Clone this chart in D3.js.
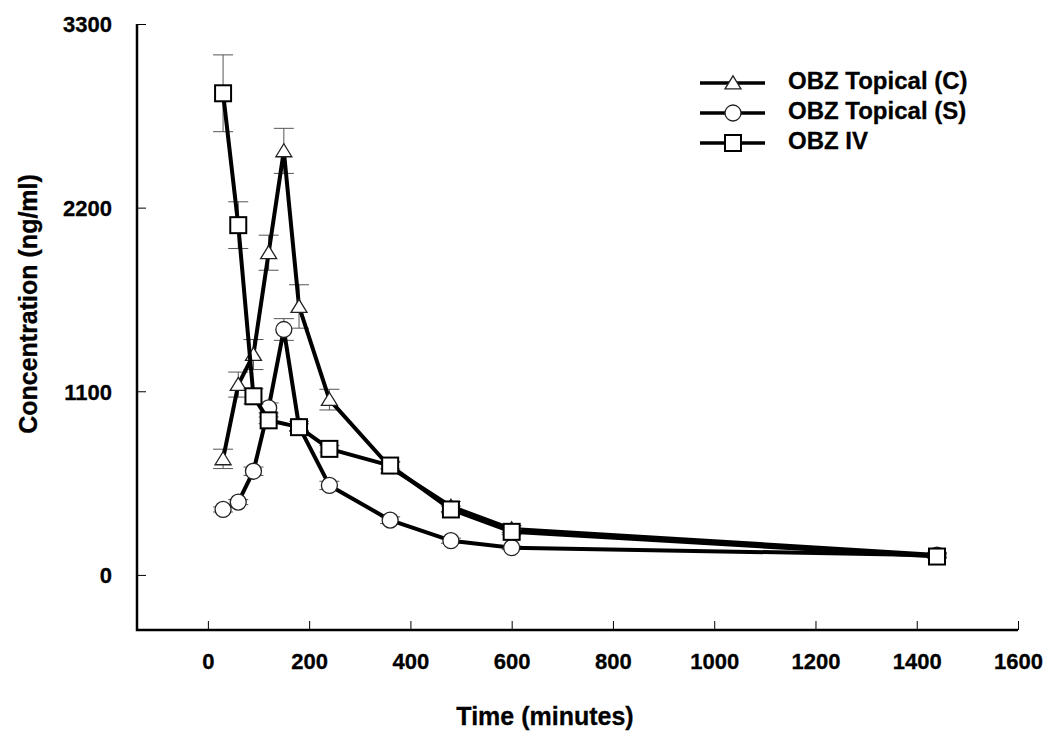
<!DOCTYPE html>
<html>
<head>
<meta charset="utf-8">
<script src="https://cdn.jsdelivr.net/npm/d3@7"></script>
<style>
  html, body { margin: 0; padding: 0; background: #fff; }
  svg { display: block; }
  text { font-family: "Liberation Sans", Arial, sans-serif; font-weight: bold; fill: #000; stroke: #000; stroke-width: 0.3px; }
</style>
</head>
<body>
<svg id="chart" width="1049" height="741"></svg>
<script>
// ---- data ----
const timesTopical = [30, 60, 90, 120, 150, 180, 240, 360, 480, 600, 1440];
const topicalC     = [695, 1140, 1320, 1930, 2540, 1608, 1050, 645, 410, 275, 120];
const topicalCErr  = [58, 75, 90, 105, 135, 130, 62, 35, 30, 20, 15];
const topicalS     = [392, 436, 621, 1000, 1470, 890, 536, 328, 205, 163, 118];
const topicalSErr  = [15, 15, 25, 30, 65, 30, 25, 20, 15, 10, 10];
const timesIV      = [30, 60, 90, 120, 180, 240, 360, 480, 600, 1440];
const iv           = [2885, 2095, 1070, 926, 885, 755, 655, 392, 258, 110];
const ivErr        = [230, 140, 45, 20, 20, 20, 20, 20, 15, 10];
const xTicks = [0, 200, 400, 600, 800, 1000, 1200, 1400, 1600];
const yTicks = [0, 1100, 2200, 3300];
const seriesNames = ["OBZ Topical (C)", "OBZ Topical (S)", "OBZ IV"];
const xTitle = "Time (minutes)";
const yTitle = "Concentration (ng/ml)";

// ---- layout ----
const svg = d3.select("#chart");
const x = d3.scaleLinear().domain([-140, 1600]).range([137, 1018]);
const y = d3.scaleLinear().domain([-330, 3300]).range([630, 24]);

const series = [
  { name: seriesNames[0], t: timesTopical, v: topicalC, e: topicalCErr, shape: "triangle" },
  { name: seriesNames[1], t: timesTopical, v: topicalS, e: topicalSErr, shape: "circle" },
  { name: seriesNames[2], t: timesIV, v: iv, e: ivErr, shape: "square" }
];

function drawMarker(g, shape, cx, cy) {
  if (shape === "circle") {
    g.append("circle").attr("cx", cx).attr("cy", cy).attr("r", 8)
      .attr("fill", "#fff").attr("stroke", "#222").attr("stroke-width", 1.3);
  } else if (shape === "square") {
    g.append("rect").attr("x", cx - 8).attr("y", cy - 8).attr("width", 16).attr("height", 16)
      .attr("fill", "#fff").attr("stroke", "#000").attr("stroke-width", 2);
  } else {
    const h = 13, w = 16;
    g.append("path")
      .attr("d", `M${cx},${cy - h * 0.55} L${cx + w / 2},${cy + h * 0.45} L${cx - w / 2},${cy + h * 0.45} Z`)
      .attr("fill", "#fff").attr("stroke", "#222").attr("stroke-width", 1.3);
  }
}

// axes
const xAxis = d3.axisBottom(x).tickValues(xTicks).tickSize(0).tickPadding(0).tickFormat(d3.format("d"));
const gx = svg.append("g").attr("transform", "translate(0,630)").call(xAxis);
gx.select(".domain").remove();
gx.selectAll("text").attr("dy", null).attr("y", 39).style("font-size", "22px").attr("font-family", null);
gx.selectAll(".tick").append("line").attr("x1", 0).attr("x2", 0).attr("y1", 0).attr("y2", -9)
  .attr("stroke", "#000").attr("stroke-width", 1);

const yAxis = d3.axisLeft(y).tickValues(yTicks).tickSize(0).tickPadding(0).tickFormat(d3.format("d"));
const gy = svg.append("g").attr("transform", "translate(137,0)").call(yAxis);
gy.select(".domain").remove();
gy.selectAll("text").attr("x", -25).attr("dy", "0.36em").style("font-size", "22px").attr("font-family", null);
gy.selectAll(".tick").append("line").attr("x1", 0).attr("x2", 9).attr("y1", 0).attr("y2", 0)
  .attr("stroke", "#000").attr("stroke-width", 1);

// axis lines
svg.append("path")
  .attr("d", `M${x(-140)},${y(3300)} L${x(-140)},${y(-330)} L${x(1600)},${y(-330)}`)
  .attr("fill", "none").attr("stroke", "#000").attr("stroke-width", 2.5);

// titles
svg.append("text").attr("x", 545).attr("y", 718).attr("text-anchor", "middle")
  .attr("dominant-baseline", "middle").style("font-size", "25px").text(xTitle);
svg.append("text").attr("transform", "translate(30,304) rotate(-90)").attr("text-anchor", "middle")
  .attr("dominant-baseline", "middle").style("font-size", "25px").text(yTitle);

// series
const line = d3.line().x(d => x(d[0])).y(d => y(d[1]));
series.forEach(s => {
  const g = svg.append("g");
  const pts = s.t.map((t, i) => [t, s.v[i], s.e[i]]);
  pts.forEach(p => {
    const cx = x(p[0]);
    g.append("line").attr("x1", cx).attr("x2", cx).attr("y1", y(p[1] - p[2])).attr("y2", y(p[1] + p[2]))
      .attr("stroke", "#555").attr("stroke-width", 1);
    [p[1] - p[2], p[1] + p[2]].forEach(v => {
      g.append("line").attr("x1", cx - 10).attr("x2", cx + 10).attr("y1", y(v)).attr("y2", y(v))
        .attr("stroke", "#555").attr("stroke-width", 1);
    });
  });
  g.append("path").datum(pts).attr("d", line).attr("fill", "none")
    .attr("stroke", "#000").attr("stroke-width", 4).attr("stroke-linejoin", "round");
  pts.forEach(p => drawMarker(g, s.shape, x(p[0]), y(p[1])));
});

// legend
const legendRows = [83, 113, 143];
series.forEach((s, i) => {
  const g = svg.append("g");
  g.append("line").attr("x1", 700).attr("x2", 765).attr("y1", legendRows[i]).attr("y2", legendRows[i])
    .attr("stroke", "#000").attr("stroke-width", 3.5);
  drawMarker(g, s.shape, 733, legendRows[i]);
  g.append("text").attr("x", 788).attr("y", legendRows[i]).attr("dominant-baseline", "middle")
    .style("font-size", "24px").text(s.name);
});
</script>
</body>
</html>
